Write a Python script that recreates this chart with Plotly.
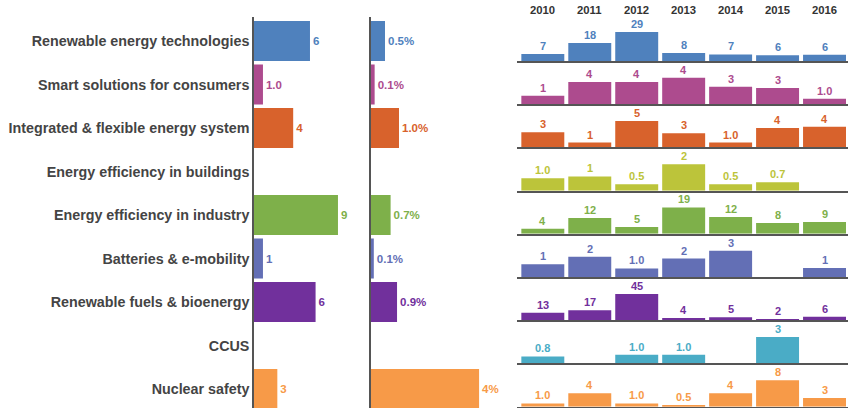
import plotly.graph_objects as go

categories = [
    "Renewable energy technologies",
    "Smart solutions for consumers",
    "Integrated & flexible energy system",
    "Energy efficiency in buildings",
    "Energy efficiency in industry",
    "Batteries & e-mobility",
    "Renewable fuels & bioenergy",
    "CCUS",
    "Nuclear safety",
]
colors = ["#4f81bd", "#ad4b8e", "#d8622c", "#bcc43a", "#7eb04a",
          "#636fb5", "#71309c", "#4aacc6", "#f79a48"]

total_values = [6.0, 0.96, 4.2, None, 9.0, 0.96, 6.6, None, 2.5]
total_labels = ["6", "1.0", "4", "", "9", "1", "6", "", "3"]

share_values = [0.5, 0.13, 1.0, None, 0.7, 0.1, 0.93, None, 3.86]
share_labels = ["0.5%", "0.1%", "1.0%", "", "0.7%", "0.1%", "0.9%", "", "4%"]

years = ["2010", "2011", "2012", "2013", "2014", "2015", "2016"]

renewable_tech = [7, 18, 29, 8, 6.6, 5.7, 6.2]
renewable_tech_lbl = ["7", "18", "29", "8", "7", "6", "6"]
smart_consumers = [1.4, 3.7, 3.7, 4.4, 2.9, 2.7, 0.9]
smart_consumers_lbl = ["1", "4", "4", "4", "3", "3", "1.0"]
integrated_system = [2.9, 0.92, 5.0, 2.7, 0.92, 3.7, 3.9]
integrated_system_lbl = ["3", "1", "5", "3", "1.0", "4", "4"]
eff_buildings = [0.98, 1.13, 0.5, 2.1, 0.5, 0.66, None]
eff_buildings_lbl = ["1.0", "1", "0.5", "2", "0.5", "0.7", ""]
eff_industry = [3.6, 11.5, 4.9, 19, 12.2, 7.8, 8.6]
eff_industry_lbl = ["4", "12", "5", "19", "12", "8", "9"]
batteries = [1.45, 2.3, 0.98, 2.1, 3.0, None, 1.02]
batteries_lbl = ["1", "2", "1.0", "2", "3", "", "1"]
renewable_fuels = [13, 17, 45, 4, 5, 2, 6]
renewable_fuels_lbl = ["13", "17", "45", "4", "5", "2", "6"]
ccus = [0.8, None, 1.0, 1.0, None, 3.0, None]
ccus_lbl = ["0.8", "", "1.0", "1.0", "", "3", ""]
nuclear = [1.0, 4.1, 1.0, 0.5, 4.1, 8.0, 2.6]
nuclear_lbl = ["1.0", "4", "1.0", "0.5", "4", "8", "3"]

yearly_values = [renewable_tech, smart_consumers, integrated_system, eff_buildings,
                 eff_industry, batteries, renewable_fuels, ccus, nuclear]
yearly_labels = [renewable_tech_lbl, smart_consumers_lbl, integrated_system_lbl,
                 eff_buildings_lbl, eff_industry_lbl, batteries_lbl,
                 renewable_fuels_lbl, ccus_lbl, nuclear_lbl]

W, H = 848, 408
FONT = "Liberation Sans, Arial, sans-serif"
AXIS_COLOR = "#555555"
LABEL_COLOR = "#444444"


def px_x(p):
    return p / W


def px_y(p):  # pixel from top -> paper y
    return 1 - p / H


fig = go.Figure()

# ---- left panel: totals
fig.add_trace(go.Bar(
    y=categories, x=total_values, orientation="h", width=0.92,
    marker=dict(color=colors, line=dict(width=0)),
    text=total_labels, textposition="outside", cliponaxis=False,
    constraintext="none",
    textfont=dict(color=colors, size=11.5, family=FONT, weight="bold"),
    xaxis="x", yaxis="y", hoverinfo="skip",
))
# ---- middle panel: shares
fig.add_trace(go.Bar(
    y=categories, x=share_values, orientation="h", width=0.92,
    marker=dict(color=colors, line=dict(width=0)),
    text=share_labels, textposition="outside", cliponaxis=False,
    constraintext="none",
    textfont=dict(color=colors, size=11.5, family=FONT, weight="bold"),
    xaxis="x2", yaxis="y2", hoverinfo="skip",
))

top_px, bot_px = 17, 408
row_pitch = 43.5
first_center = 41
v_top = -(first_center - top_px) / row_pitch
v_bot = v_top + (bot_px - top_px) / row_pitch

layout = dict(
    width=W, height=H,
    margin=dict(l=0, r=0, t=0, b=0),
    paper_bgcolor="white", plot_bgcolor="white",
    showlegend=False, bargap=0.085,
    font=dict(family=FONT, color=LABEL_COLOR),
    xaxis=dict(domain=[px_x(254), px_x(360)], range=[0, 106 / 9.33],
               visible=False, fixedrange=True),
    yaxis=dict(domain=[px_y(bot_px), px_y(top_px)], anchor="x",
               categoryorder="array", categoryarray=categories,
               range=[v_bot, v_top], showline=True, linecolor=AXIS_COLOR,
               linewidth=1.5, showgrid=False, zeroline=False,
               ticks="",
               tickfont=dict(size=14.3, color=LABEL_COLOR, family=FONT, weight="bold")),
    xaxis2=dict(domain=[px_x(371), px_x(505)], range=[0, 134 / 28.0],
                visible=False, anchor="y2"),
    yaxis2=dict(domain=[px_y(bot_px), px_y(top_px)], anchor="x2",
                categoryorder="array", categoryarray=categories,
                range=[v_bot, v_top], showline=True, linecolor=AXIS_COLOR,
                linewidth=1.5, showgrid=False, zeroline=False,
                showticklabels=False, ticks=""),
)

annotations = []

# ---- right grid: small multiples per year
base0 = 61.0
pitch = 43.21
for i, (vals, lbls) in enumerate(zip(yearly_values, yearly_labels)):
    xa = f"x{i + 3}"
    ya = f"y{i + 3}"
    b = base0 + pitch * i
    vmax = max(v for v in vals if v is not None)
    factor = 1.49 if i == 0 else 1.64
    fig.add_trace(go.Bar(
        x=list(range(len(years))), y=vals,
        marker=dict(color=colors[i], line=dict(width=0)),
        xaxis=xa, yaxis=ya, hoverinfo="skip",
    ))
    for k, (v, t) in enumerate(zip(vals, lbls)):
        if v is None or not t:
            continue
        annotations.append(dict(
            x=k, y=v, xref=xa, yref=ya, text=t, showarrow=False,
            xanchor="center", yanchor="bottom", yshift=0,
            font=dict(size=11, color=colors[i], family=FONT, weight="bold")))
    layout[f"xaxis{i + 3}"] = dict(
        domain=[px_x(517), 1.0], anchor=ya, type="linear",
        range=[-0.55, 6.5],
        showline=True, linecolor=AXIS_COLOR, linewidth=1.5,
        showticklabels=False, ticks="", showgrid=False, zeroline=False)
    layout[f"yaxis{i + 3}"] = dict(
        domain=[px_y(b), px_y(b - pitch)], anchor=xa,
        range=[0, vmax * factor], visible=False, showgrid=False,
        zeroline=False)

fig.update_layout(**layout)

for k, y in enumerate(years):
    annotations.append(dict(
        x=k, y=px_y(10.3), xref="x3", yref="paper", text=y, showarrow=False,
        xanchor="center", yanchor="middle",
        font=dict(size=11.3, color="#333333", family=FONT, weight="bold")))
fig.update_layout(annotations=annotations)

fig.write_html(
    "out.html",
    config={"displayModeBar": False},
    post_script="document.body.style.margin='0';document.body.style.overflow='hidden';",
)
